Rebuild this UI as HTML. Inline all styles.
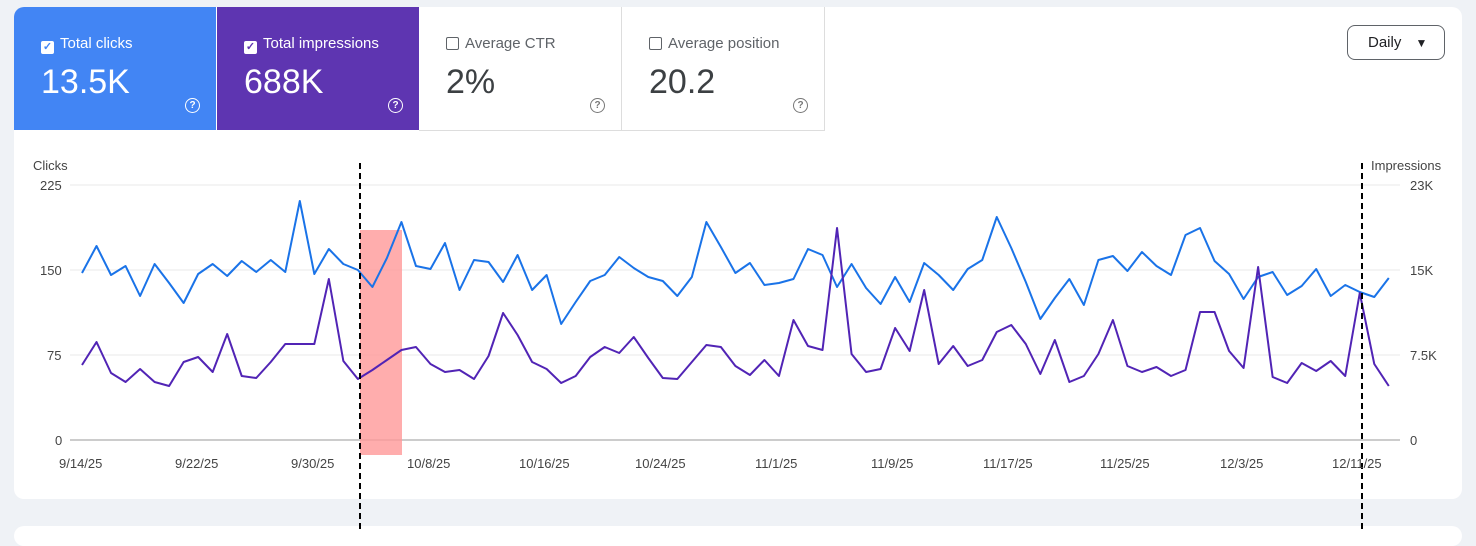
<!DOCTYPE html>
<html><head><style>
body{margin:0;width:1476px;height:531px;background:#eff2f6;font-family:"Liberation Sans",sans-serif;position:relative;overflow:hidden}
.card{position:absolute;left:14px;top:7px;width:1448px;height:492px;background:#fff;border-radius:10px;overflow:hidden}
.card2{position:absolute;left:14px;top:526px;width:1448px;height:20px;background:#fff;border-radius:10px}
.tile{position:absolute;top:0;height:123px;width:202px}
.lbl{position:absolute;left:27px;top:28px;font-size:15px}
.val{position:absolute;left:27px;top:56px;font-size:34px}
.cb{display:inline-block;width:11px;height:11px;border:1.5px solid #fff;border-radius:2px;vertical-align:-2px;margin-right:6px;position:relative;font-size:11px;line-height:11px;text-align:center;font-weight:bold}
.q{position:absolute;right:16px;top:91px;width:13px;height:13px;border:1.5px solid #fff;border-radius:50%;font-size:10px;text-align:center;line-height:13px;font-weight:bold}
.t{position:absolute;font-size:13px;color:#444}
</style></head><body>
<div class="card">
<div class="tile" style="left:0;background:#4285f4;color:#fff"><div class="lbl"><span class="cb" style="background:#fff;color:#4285f4">✓</span>Total clicks</div><div class="val">13.5K</div><div class="q">?</div></div>
<div class="tile" style="left:203px;background:#5e35b1;color:#fff"><div class="lbl"><span class="cb" style="background:#fff;color:#5e35b1">✓</span>Total impressions</div><div class="val">688K</div><div class="q">?</div></div>
<div class="tile" style="left:405px;border-right:1px solid #ddd;border-bottom:1px solid #ddd;color:#5f6368"><div class="lbl"><span class="cb" style="border-color:#5f6368"></span>Average CTR</div><div class="val" style="color:#3c4043">2%</div><div class="q" style="border-color:#777;color:#777">?</div></div>
<div class="tile" style="left:608px;border-right:1px solid #ddd;border-bottom:1px solid #ddd;color:#5f6368"><div class="lbl"><span class="cb" style="border-color:#5f6368"></span>Average position</div><div class="val" style="color:#3c4043">20.2</div><div class="q" style="border-color:#777;color:#777">?</div></div>
<div style="position:absolute;left:1333px;top:18px;width:96px;height:33px;border:1px solid #5f6368;border-radius:8px;font-size:15px;color:#202124;line-height:33px;text-indent:20px">Daily <span style="font-size:12px;margin-left:10px">▼</span></div>
</div>
<div class="card2"></div>
<svg style="position:absolute;left:0;top:0" width="1476" height="531">
<line x1="70" x2="1400" y1="185" y2="185" stroke="#e8e8e8"/>
<line x1="70" x2="1400" y1="270" y2="270" stroke="#e8e8e8"/>
<line x1="70" x2="1400" y1="355" y2="355" stroke="#e8e8e8"/>
<line x1="70" x2="1400" y1="440" y2="440" stroke="#999"/>
<rect x="360" y="230" width="42" height="225" fill="#ff9999" opacity="0.8"/>
<g transform="translate(82,0) scale(14.52,1)" fill="none" stroke-width="2" stroke-linejoin="round">
<polyline vector-effect="non-scaling-stroke" stroke="#1a73e8" points="0,273 1,246 2,275 3,266 4,296 5,264 6,283 7,303 8,274 9,264 10,276 11,261 12,272 13,260 14,272 15,201 16,274 17,249 18,264 19,270 20,287 21,258 22,222 23,266 24,269 25,243 26,290 27,260 28,262 29,282 30,255 31,290 32,275 33,324 34,302 35,281 36,275 37,257 38,268 39,277 40,281 41,296 42,277 43,222 44,247 45,273 46,263 47,285 48,283 49,279 50,249 51,255 52,287 53,264 54,288 55,304 56,277 57,302 58,263 59,275 60,290 61,269 62,260 63,217 64,248 65,282 66,319 67,298 68,279 69,305 70,260 71,256 72,271 73,252 74,266 75,275 76,235 77,228 78,261 79,274 80,299 81,277 82,272 83,295 84,286 85,269 86,296 87,285 88,292 89,297 90,278"/>
<polyline vector-effect="non-scaling-stroke" stroke="#5124b5" points="0,365 1,342 2,373 3,382 4,369 5,382 6,386 7,362 8,357 9,372 10,334 11,376 12,378 13,362 14,344 15,344 16,344 17,279 18,361 19,379 20,370 21,360 22,350 23,347 24,364 25,372 26,370 27,379 28,356 29,313 30,335 31,362 32,369 33,383 34,376 35,357 36,347 37,353 38,337 39,358 40,378 41,379 42,362 43,345 44,347 45,366 46,375 47,360 48,376 49,320 50,346 51,350 52,228 53,354 54,372 55,369 56,328 57,351 58,290 59,364 60,346 61,366 62,360 63,332 64,325 65,344 66,374 67,340 68,382 69,376 70,354 71,320 72,366 73,372 74,367 75,376 76,370 77,312 78,312 79,351 80,368 81,267 82,377 83,383 84,363 85,371 86,361 87,376 88,293 89,364 90,386"/>
</g>
<line x1="360" x2="360" y1="163" y2="531" stroke="#000" stroke-width="2" stroke-dasharray="6,4"/>
<line x1="1362" x2="1362" y1="163" y2="531" stroke="#000" stroke-width="2" stroke-dasharray="6,4"/>
</svg>
<div class="t" style="left:33px;top:158px">Clicks</div>
<div class="t" style="left:40px;top:178px">225</div>
<div class="t" style="left:40px;top:263px">150</div>
<div class="t" style="left:47px;top:348px">75</div>
<div class="t" style="left:55px;top:433px">0</div>
<div class="t" style="left:1371px;top:158px">Impressions</div>
<div class="t" style="left:1410px;top:178px">23K</div>
<div class="t" style="left:1410px;top:263px">15K</div>
<div class="t" style="left:1410px;top:348px">7.5K</div>
<div class="t" style="left:1410px;top:433px">0</div>
<div class="t" style="left:59px;top:456px">9/14/25</div>
<div class="t" style="left:175px;top:456px">9/22/25</div>
<div class="t" style="left:291px;top:456px">9/30/25</div>
<div class="t" style="left:407px;top:456px">10/8/25</div>
<div class="t" style="left:519px;top:456px">10/16/25</div>
<div class="t" style="left:635px;top:456px">10/24/25</div>
<div class="t" style="left:755px;top:456px">11/1/25</div>
<div class="t" style="left:871px;top:456px">11/9/25</div>
<div class="t" style="left:983px;top:456px">11/17/25</div>
<div class="t" style="left:1100px;top:456px">11/25/25</div>
<div class="t" style="left:1220px;top:456px">12/3/25</div>
<div class="t" style="left:1332px;top:456px">12/11/25</div>
</body></html>
